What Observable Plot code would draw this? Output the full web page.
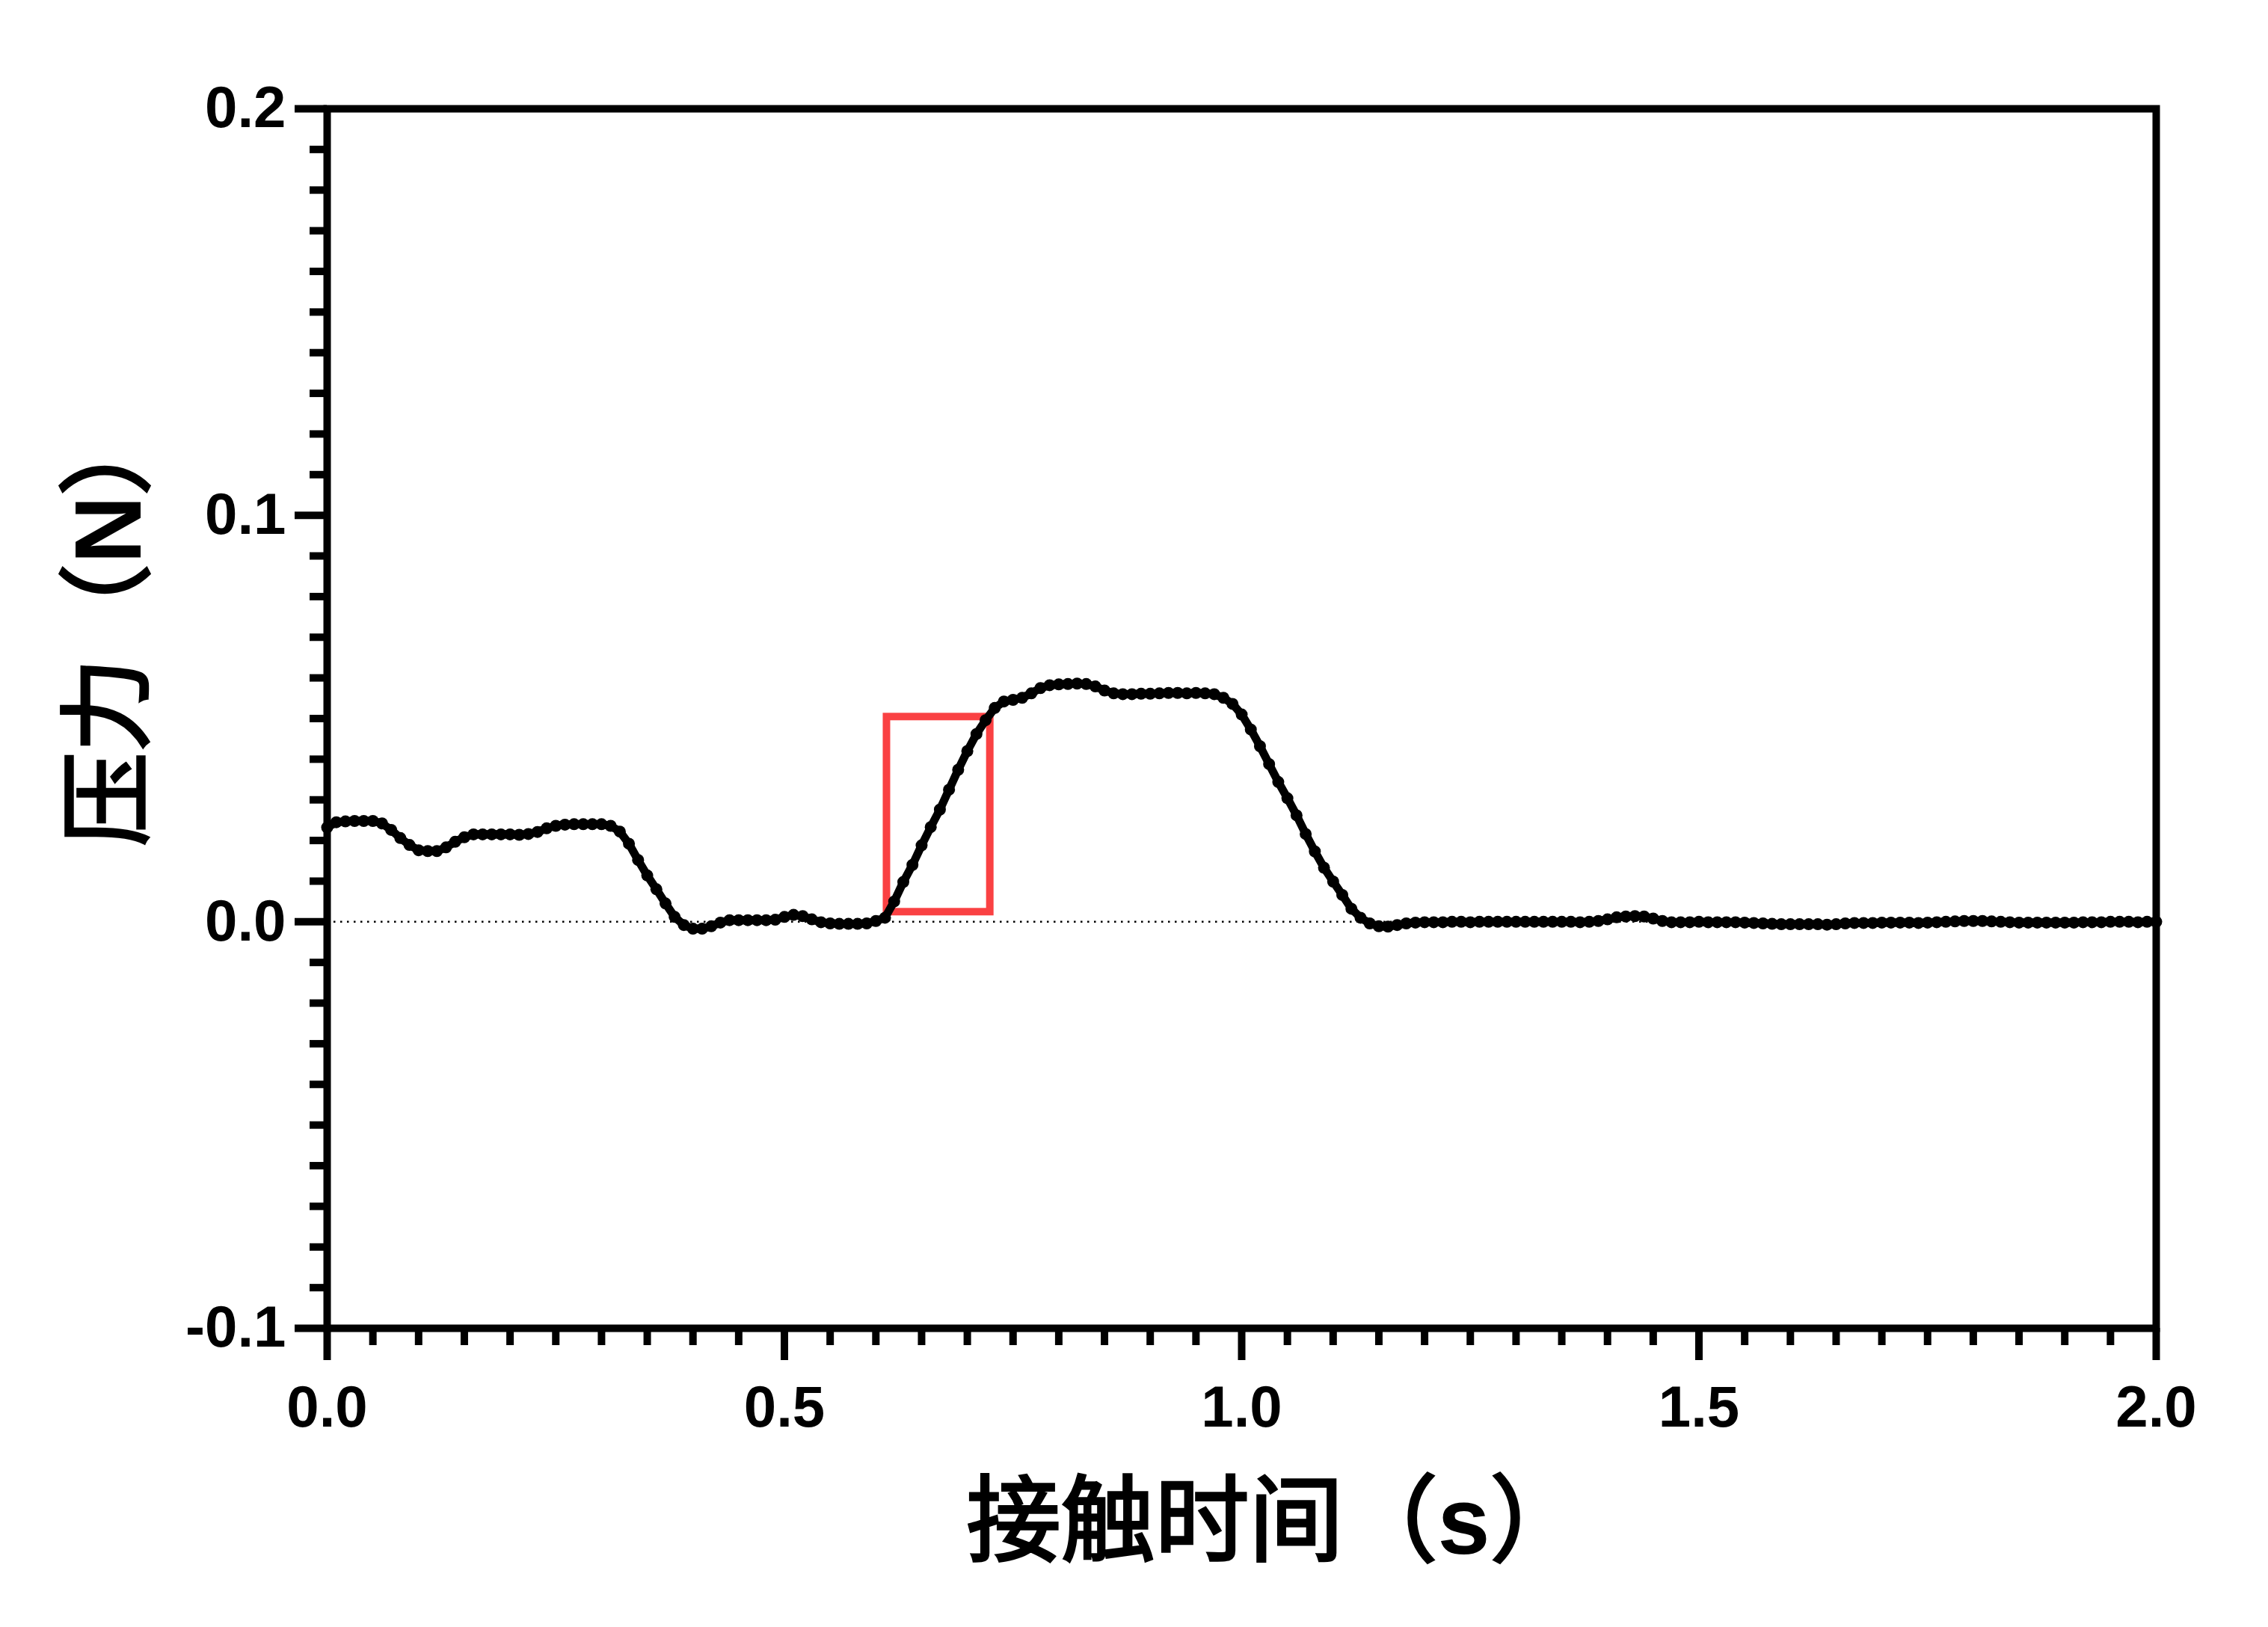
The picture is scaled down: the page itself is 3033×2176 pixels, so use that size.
<!DOCTYPE html>
<html>
<head>
<meta charset="utf-8">
<script src="https://cdn.jsdelivr.net/npm/d3@7"></script>
<script src="https://cdn.jsdelivr.net/npm/@observablehq/plot@0.6"></script>
<style>
  html, body { margin: 0; padding: 0; background: #ffffff; }
  #chart svg { display: block; }
</style>
</head>
<body>
<div id="chart"></div>
<script>
// ---- Data ----
const sampleStep = 0.01; // seconds between samples
const force = [
  // 0.00 - 0.09
  0.0232, 0.0245, 0.0247, 0.0248, 0.0248, 0.0248, 0.0242, 0.0226, 0.0206, 0.0189,
  // 0.10 - 0.19
  0.0176, 0.0174, 0.0174, 0.0183, 0.0197, 0.0208, 0.0215, 0.0215, 0.0215, 0.0215,
  // 0.20 - 0.29
  0.0215, 0.0214, 0.0216, 0.0221, 0.0230, 0.0236, 0.0239, 0.0240, 0.0240, 0.0240,
  // 0.30 - 0.39
  0.0240, 0.0236, 0.0222, 0.0192, 0.0152, 0.0114, 0.0080, 0.0045, 0.0012, -0.0008,
  // 0.40 - 0.49
  -0.0017, -0.0017, -0.0011, -0.0002, 0.0004, 0.0004, 0.0004, 0.0004, 0.0004, 0.0005,
  // 0.50 - 0.59
  0.0012, 0.0017, 0.0014, 0.0006, -0.0001, -0.0004, -0.0005, -0.0005, -0.0005, -0.0004,
  // 0.60 - 0.69
  0.0002, 0.0010, 0.0050, 0.0098, 0.0140, 0.0188, 0.0233, 0.0276, 0.0325, 0.0374,
  // 0.70 - 0.79
  0.0420, 0.0462, 0.0496, 0.0526, 0.0542, 0.0546, 0.0551, 0.0562, 0.0575, 0.0582,
  // 0.80 - 0.89
  0.0584, 0.0585, 0.0586, 0.0585, 0.0579, 0.0569, 0.0562, 0.0560, 0.0560, 0.0561,
  // 0.90 - 0.99
  0.0561, 0.0562, 0.0563, 0.0563, 0.0562, 0.0563, 0.0562, 0.0560, 0.0551, 0.0536,
  // 1.00 - 1.09
  0.0510, 0.0473, 0.0432, 0.0388, 0.0344, 0.0304, 0.0262, 0.0216, 0.0173, 0.0133,
  // 1.10 - 1.19
  0.0099, 0.0066, 0.0032, 0.0010, -0.0004, -0.0011, -0.0012, -0.0008, -0.0004, -0.0002,
  // 1.20 - 1.29
  -0.0001, -0.0001, -0.0001, 0.0000, 0.0000, -0.0001, 0.0000, 0.0000, 0.0000, 0.0000,
  // 1.30 - 1.39
  0.0000, 0.0000, 0.0000, 0.0000, 0.0000, 0.0000, 0.0000, -0.0001, 0.0000, 0.0002,
  // 1.40 - 1.49
  0.0006, 0.0011, 0.0013, 0.0014, 0.0013, 0.0008, 0.0002, -0.0001, -0.0001, -0.0001,
  // 1.50 - 1.59
  0.0000, -0.0001, -0.0001, -0.0001, -0.0001, -0.0002, -0.0003, -0.0004, -0.0005, -0.0006,
  // 1.60 - 1.69
  -0.0006, -0.0006, -0.0006, -0.0006, -0.0007, -0.0006, -0.0004, -0.0003, -0.0003, -0.0003,
  // 1.70 - 1.79
  -0.0002, -0.0002, -0.0002, -0.0002, -0.0003, -0.0002, -0.0001, 0.0000, 0.0001, 0.0002,
  // 1.80 - 1.89
  0.0002, 0.0002, 0.0001, 0.0000, -0.0001, -0.0002, -0.0002, -0.0002, -0.0002, -0.0002,
  // 1.90 - 2.00
  -0.0002, -0.0002, -0.0001, -0.0001, -0.0001, 0.0000, 0.0000, 0.0000, -0.0001, 0.0000, 0.0000
];

// highlighted region (red box): time range and force range
const boxTime = [0.612, 0.725];
const boxForce = [0.0024, 0.0504];

// axes
const xTicks = [0, 0.5, 1.0, 1.5, 2.0];
const xTickLabels = ["0.0", "0.5", "1.0", "1.5", "2.0"];
const yTicks = [-0.1, 0, 0.1, 0.2];
const yTickLabels = ["-0.1", "0.0", "0.1", "0.2"];
const xDomain = [0, 2];
const yDomain = [-0.1, 0.2];
const xMinorStep = 0.05;
const yMinorStep = 0.01;
const xTitle = "接触时间（s）";
const yTitle = "压力（N）";

// ---- Build table ----
const data = force.map((f, i) => ({t: i * sampleStep, f}));
const boxes = [{x1: boxTime[0], x2: boxTime[1], y1: boxForce[0], y2: boxForce[1]}];
const xMinor = d3.range(Math.round((xDomain[1] - xDomain[0]) / xMinorStep) + 1)
  .map(i => +(xDomain[0] + i * xMinorStep).toFixed(3))
  .filter(v => !xTicks.some(t => Math.abs(t - v) < 1e-9));
const yMinor = d3.range(Math.round((yDomain[1] - yDomain[0]) / yMinorStep) + 1)
  .map(i => +(yDomain[0] + i * yMinorStep).toFixed(3))
  .filter(v => !yTicks.some(t => Math.abs(t - v) < 1e-9));

const latin = "'Liberation Sans', Arial, Helvetica, sans-serif";
const cjk = "'Noto Sans CJK SC', sans-serif";

const chart = Plot.plot({
  width: 3033,
  height: 2176,
  marginLeft: 437,
  marginRight: 150,
  marginTop: 145,
  marginBottom: 400,
  x: {domain: xDomain},
  y: {domain: yDomain},
  style: {background: "#ffffff", color: "#000000", fontFamily: latin},
  marks: [
    Plot.ruleY([0], {stroke: "#000000", strokeWidth: 2.5, strokeDasharray: "2.5,6.5"}),
    Plot.rect(boxes, {x1: "x1", x2: "x2", y1: "y1", y2: "y2", fill: "none", stroke: "#fa4143", strokeWidth: 10}),
    Plot.line(data, {x: "t", y: "f", stroke: "#000000", strokeWidth: 11, strokeLinejoin: "round"}),
    Plot.dot(data, {x: "t", y: "f", r: 8, fill: "#000000", stroke: "none"}),
    Plot.frame({stroke: "#000000", strokeWidth: 10}),
    // minor ticks
    Plot.axisX(xMinor, {tickSize: 23, strokeWidth: 10, tickFormat: () => "", label: null}),
    Plot.axisY(yMinor, {tickSize: 23, strokeWidth: 10, tickFormat: () => "", label: null}),
    // major ticks
    Plot.axisX(xTicks, {
      tickSize: 43, tickPadding: 33, strokeWidth: 10, label: null,
      tickFormat: d => xTickLabels[xTicks.indexOf(d)],
      fontSize: 78, fontWeight: "bold", fontFamily: latin
    }),
    Plot.axisY(yTicks, {
      tickSize: 43, tickPadding: 12, strokeWidth: 10, label: null,
      tickFormat: d => yTickLabels[yTicks.indexOf(d)],
      fontSize: 78, fontWeight: "bold", fontFamily: latin
    }),
    // axis titles
    Plot.text([xTitle], {
      frameAnchor: "bottom", textAnchor: "start", dx: -368, dy: 301,
      fontSize: 126, fontFamily: cjk, fill: "#000000", className: "xtitle"
    }),
    Plot.text([yTitle], {
      frameAnchor: "left", rotate: -90, textAnchor: "start", dx: -290, dy: 171,
      fontSize: 126, fontFamily: cjk, fill: "#000000", className: "ytitle"
    })
  ]
});

// Titles: CJK characters in a medium (heavier-than-regular) weight, Latin letters in bold sans.
function styleTitle(sel, str) {
  sel.selectAll("text").each(function () {
    const t = d3.select(this);
    t.text(null);
    const parts = str.match(/[A-Za-z]+|[^A-Za-z]+/g);
    for (const p of parts) {
      const latinPart = /^[A-Za-z]+$/.test(p);
      const span = t.append("tspan")
        .attr("font-family", latinPart ? latin : cjk)
        .attr("font-weight", latinPart ? "bold" : "normal")
        .text(p);
      if (!latinPart) {
        span.attr("stroke", "#000000")
          .attr("stroke-width", 3.5)
          .attr("stroke-linejoin", "miter")
          .attr("paint-order", "stroke");
      }
    }
  });
}
styleTitle(d3.select(chart).select(".xtitle"), xTitle);
styleTitle(d3.select(chart).select(".ytitle"), yTitle);

document.getElementById("chart").appendChild(chart);
</script>
</body>
</html>
